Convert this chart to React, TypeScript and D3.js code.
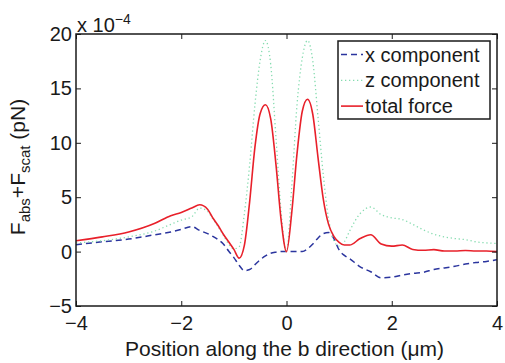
import React, { useEffect, useRef } from 'react';
import * as d3 from 'd3';

// position along b (um)
const positions = [-4, -3.5, -3, -2.5, -2.2, -2, -1.8, -1.65, -1.5, -1.4,
  -1.3, -1.2, -1.1, -1.0, -0.9, -0.8, -0.7, -0.6, -0.5, -0.4,
  -0.3, -0.2, -0.1, 0, 0.1, 0.2, 0.3, 0.4, 0.5, 0.6,
  0.7, 0.8, 0.9, 1.0, 1.1, 1.2, 1.4, 1.6, 1.8, 2.0,
  2.2, 2.4, 2.6, 2.8, 3.0, 3.2, 3.4, 3.6, 3.8, 4.0];

// force values, units of 1e-4 pN
const xComponent = [0.63, 0.9, 1.15, 1.55, 1.8, 2.05, 2.3, 1.95, 1.65, 1.4,
  1.1, 0.7, 0.05, -0.55, -1.25, -1.75, -1.65, -1.2, -0.75, -0.4,
  -0.15, -0.05, 0, 0, 0, 0, 0, 0.25, 0.7, 1.25,
  1.65, 1.75, 1.2, 0.15, -0.35, -0.65, -1.4, -1.85, -2.4, -2.35,
  -2.15, -2.0, -1.9, -1.65, -1.5, -1.35, -1.15, -1.0, -0.9, -0.75];

const zComponent = [0.8, 1.0, 1.35, 1.9, 2.5, 2.9, 3.2, 4.0, 3.7, 3.0,
  2.3, 1.5, 0.7, 0.25, 0.45, 3.5, 8.0, 13.5, 17.6, 19.4,
  17.2, 10.5, 3.5, 0, 6.0, 13.5, 17.8, 19.4, 17.5, 12.3,
  7.0, 3.0, 1.0, 0.5, 0.9, 1.9, 3.5, 4.1, 3.4, 3.1,
  2.95, 2.5, 2.0, 1.6, 1.35, 1.2, 1.1, 0.9, 0.8, 0.75];

const totalForce = [1.0, 1.35, 1.8, 2.6, 3.3, 3.6, 4.0, 4.3, 3.9, 3.1,
  2.4, 1.6, 0.9, 0.2, -0.6, 0.6, 4.6, 9.6, 12.7, 13.5,
  12.2, 8.0, 2.8, 0, 3.6, 9.0, 12.9, 14.0, 12.6, 8.6,
  4.8, 2.5, 1.4, 0.85, 0.6, 0.6, 1.2, 1.55, 0.7, 0.5,
  0.6, 0.2, 0.12, 0.18, 0.05, 0.05, 0.1, 0.05, 0.05, 0.0];

const xTicks = [-4, -2, 0, 2, 4];
const yTicks = [-5, 0, 5, 10, 15, 20];
const legendLabels = ['x component', 'z component', 'total force'];

const FONT = '"Liberation Sans", Arial, Helvetica, sans-serif';

const App = () => {
  const svgRef = useRef<SVGSVGElement>(null);

  useEffect(() => {
    const svg = d3.select(svgRef.current);
    svg.selectAll('*').remove();

    const left = 76, right = 497, top = 34, bottom = 306;

    const x = d3.scaleLinear().domain([-4, 4]).range([left, right]);
    const y = d3.scaleLinear().domain([-5, 20]).range([bottom, top]);

    const series = [
      { values: xComponent, color: '#2b359e', dash: '6,4', width: 1.5 },
      { values: zComponent, color: '#86dcb0', dash: '1.3,2.7', width: 1.3 },
      { values: totalForce, color: '#e8202a', dash: null, width: 1.6 },
    ];

    const clip = svg.append('defs').append('clipPath').attr('id', 'plotclip');
    clip.append('rect').attr('x', left).attr('y', top)
      .attr('width', right - left).attr('height', bottom - top);

    const line = d3.line<number>()
      .x((d, i) => x(positions[i]))
      .y(d => y(d))
      .curve(d3.curveMonotoneX);

    const g = svg.append('g').attr('clip-path', 'url(#plotclip)');
    series.forEach(s => {
      g.append('path')
        .datum(s.values)
        .attr('fill', 'none')
        .attr('stroke', s.color)
        .attr('stroke-width', s.width)
        .attr('stroke-dasharray', s.dash)
        .attr('d', line);
    });

    // axes, ticks pointing inward on all four sides
    const styleAxis = (sel) => {
      sel.select('.domain').remove();
      sel.selectAll('line').attr('stroke', '#1a1a1a').attr('stroke-width', 1);
      sel.selectAll('text').attr('fill', '#1a1a1a').style('font-family', FONT).style('font-size', '20px');
    };

    svg.append('g')
      .attr('transform', `translate(0,${bottom})`)
      .call(d3.axisBottom(x).tickValues(xTicks).tickSizeInner(-5).tickSizeOuter(0).tickPadding(10))
      .call(styleAxis);
    svg.append('g')
      .attr('transform', `translate(0,${top})`)
      .call(d3.axisTop(x).tickValues(xTicks).tickSizeInner(-5).tickSizeOuter(0).tickFormat(() => ''))
      .call(styleAxis);
    svg.append('g')
      .attr('transform', `translate(${left},0)`)
      .call(d3.axisLeft(y).tickValues(yTicks).tickSizeInner(-5).tickSizeOuter(0).tickPadding(4))
      .call(styleAxis);
    svg.append('g')
      .attr('transform', `translate(${right},0)`)
      .call(d3.axisRight(y).tickValues(yTicks).tickSizeInner(-5).tickSizeOuter(0).tickFormat(() => ''))
      .call(styleAxis);

    svg.append('rect')
      .attr('x', left).attr('y', top)
      .attr('width', right - left).attr('height', bottom - top)
      .attr('fill', 'none').attr('stroke', '#1a1a1a').attr('stroke-width', 1.5);

    // exponent label
    const expo = svg.append('text')
      .attr('x', left + 1).attr('y', 32)
      .style('font-family', FONT).style('font-size', '20px').attr('fill', '#1a1a1a');
    expo.append('tspan').text('x 10');
    expo.append('tspan').attr('dy', -8).style('font-size', '14px').text('\u22124');

    // x label
    svg.append('text')
      .attr('x', (left + right) / 2 - 2).attr('y', 356)
      .attr('text-anchor', 'middle')
      .style('font-family', FONT).style('font-size', '21px').attr('fill', '#1a1a1a')
      .text('Position along the b direction (\u03bcm)');

    // y label
    const yl = svg.append('text')
      .attr('transform', 'translate(25,167) rotate(-90)')
      .attr('text-anchor', 'middle')
      .style('font-family', FONT).style('font-size', '21px').attr('fill', '#1a1a1a');
    yl.append('tspan').text('F');
    yl.append('tspan').attr('dy', 5).style('font-size', '15px').text('abs');
    yl.append('tspan').attr('dy', -5).text('+F');
    yl.append('tspan').attr('dy', 5).style('font-size', '15px').text('scat');
    yl.append('tspan').attr('dy', -5).text(' (pN)');

    // legend
    const lg = svg.append('g');
    lg.append('rect')
      .attr('x', 338).attr('y', 41).attr('width', 152).attr('height', 78)
      .attr('fill', 'white').attr('stroke', '#1a1a1a').attr('stroke-width', 1.5);
    series.forEach((s, i) => {
      const cy = 54.5 + i * 25.8;
      lg.append('line')
        .attr('x1', 341).attr('x2', 363).attr('y1', cy).attr('y2', cy)
        .attr('stroke', s.color).attr('stroke-width', s.width)
        .attr('stroke-dasharray', s.dash);
      lg.append('text')
        .attr('x', 365).attr('y', cy).attr('dy', '0.35em')
        .style('font-family', FONT).style('font-size', '20px').attr('fill', '#1a1a1a')
        .text(legendLabels[i]);
    });
  }, []);

  return (
    <svg ref={svgRef} width={505} height={363}
      style={{ position: 'absolute', left: 0, top: 0, background: 'white' }} />
  );
};

export default App;
